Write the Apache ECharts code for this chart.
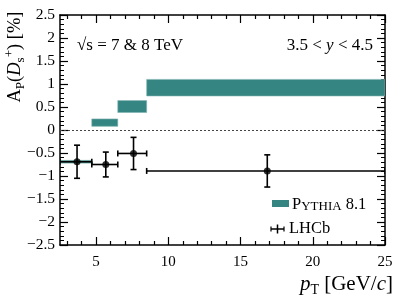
<!DOCTYPE html>
<html><head><meta charset="utf-8">
<script src="https://cdn.jsdelivr.net/npm/echarts@6/dist/echarts.min.js"></script>
<style>html,body{margin:0;padding:0;background:#fff}#c{width:407px;height:295px}</style>
</head><body><div id="c"></div>
<script>
// ---- data ----
const binLow = [2.5, 4.7, 6.5, 8.5];
const binHigh = [4.7, 6.5, 8.5, 25];
const pythiaLow = [-0.72, 0.08, 0.38, 0.74];
const pythiaHigh = [-0.66, 0.24, 0.64, 1.10];
const lhcbPt = [3.68, 5.67, 7.59, 16.85];
const lhcbAp = [-0.69, -0.75, -0.51, -0.89];
const lhcbErr = [0.36, 0.27, 0.35, 0.35];
const xMajorTicks = [5, 10, 15, 20, 25];
const xMinorTicks = [3, 4, 6, 7, 8, 9, 11, 12, 13, 14, 16, 17, 18, 19, 21, 22, 23, 24];
const yMin = -2.5, yMax = 2.5, yStep = 0.5;
const xMin = 2.5, xMax = 25;

const FONT = 'Liberation Serif';
const TEAL = '#358582';

const bandData = binLow.map((b, i) => [b, binHigh[i], pythiaLow[i], pythiaHigh[i]]);
const errData = lhcbPt.map((x, i) => [x, lhcbAp[i], binLow[i], binHigh[i], lhcbErr[i]]);
const ptData = lhcbPt.map((x, i) => [x, lhcbAp[i]]);

const fmt = v => (v < 0 ? '\u2212' : '') + Math.abs(v);

function xAxisDef(pos, ticks, len, labels, line) {
  return {
    type: 'value', position: pos, min: xMin, max: xMax,
    axisLine: { show: line, onZero: false, lineStyle: { color: '#000', width: 1.5 } },
    axisTick: { show: true, inside: true, length: len, customValues: ticks, lineStyle: { color: '#000', width: 1.2 } },
    axisLabel: labels ? { show: true, customValues: ticks, color: '#000', fontFamily: FONT, fontSize: 15, margin: 10, formatter: fmt } : { show: false },
    splitLine: { show: false }
  };
}
function yAxisDef(pos, labels) {
  return {
    type: 'value', position: pos, min: yMin, max: yMax, interval: yStep,
    axisLine: { show: true, onZero: false, lineStyle: { color: '#000', width: 1.5 } },
    axisTick: { show: true, inside: true, length: 8, lineStyle: { color: '#000', width: 1.2 } },
    minorTick: { show: true, splitNumber: 5, length: 4, lineStyle: { color: '#000', width: 1 } },
    axisLabel: labels ? { show: true, color: '#000', fontFamily: FONT, fontSize: 15.5, margin: 5, formatter: fmt } : { show: false },
    splitLine: { show: false }
  };
}

const TS = 18.5, SS = 13;
const chart = echarts.init(document.getElementById('c'), null, { renderer: 'canvas' });
chart.setOption({
  animation: false,
  backgroundColor: '#fff',
  grid: { left: 60, right: 22, top: 15, bottom: 50 },
  xAxis: [
    xAxisDef('bottom', xMajorTicks, 8, true, true),
    xAxisDef('bottom', xMinorTicks, 4, false, false),
    xAxisDef('top', xMajorTicks, 8, false, true),
    xAxisDef('top', xMinorTicks, 4, false, false)
  ],
  yAxis: [yAxisDef('left', true), yAxisDef('right', false)],
  series: [
    {
      name: 'Pythia', type: 'custom', xAxisIndex: 0, yAxisIndex: 0, clip: true,
      data: bandData,
      renderItem(params, api) {
        const p0 = api.coord([api.value(0), api.value(3)]);
        const p1 = api.coord([api.value(1), api.value(2)]);
        return { type: 'rect', shape: { x: p0[0], y: p0[1], width: p1[0] - p0[0], height: p1[1] - p0[1] },
          style: { fill: TEAL, stroke: '#7fb3b0', lineWidth: 0.6 } };
      },
      markLine: {
        silent: true, symbol: ['none', 'none'], label: { show: false },
        lineStyle: { color: '#444', type: [2, 2], width: 1 },
        data: [{ yAxis: 0 }]
      }
    },
    {
      name: 'LHCb err', type: 'custom', xAxisIndex: 0, yAxisIndex: 0, clip: true,
      data: errData,
      renderItem(params, api) {
        const x = api.value(0), y = api.value(1), xl = api.value(2), xh = api.value(3), e = api.value(4);
        const c = api.coord([x, y]);
        const l = api.coord([xl, y]);
        const h = api.coord([xh, y]);
        const t = api.coord([x, y + e]);
        const b = api.coord([x, y - e]);
        const st = { stroke: '#000', lineWidth: 1.6 };
        const cap = 3;
        return { type: 'group', children: [
          { type: 'line', shape: { x1: l[0], y1: c[1], x2: h[0], y2: c[1] }, style: st },
          { type: 'line', shape: { x1: c[0], y1: t[1], x2: c[0], y2: b[1] }, style: st },
          { type: 'line', shape: { x1: c[0] - cap, y1: t[1], x2: c[0] + cap, y2: t[1] }, style: st },
          { type: 'line', shape: { x1: c[0] - cap, y1: b[1], x2: c[0] + cap, y2: b[1] }, style: st },
          { type: 'line', shape: { x1: l[0], y1: c[1] - cap, x2: l[0], y2: c[1] + cap }, style: st },
          { type: 'line', shape: { x1: h[0], y1: c[1] - cap, x2: h[0], y2: c[1] + cap }, style: st }
        ] };
      }
    },
    {
      name: 'LHCb', type: 'scatter', xAxisIndex: 0, yAxisIndex: 0,
      data: ptData, symbol: 'circle', symbolSize: 7, itemStyle: { color: '#000' }, z: 5
    }
  ],
  graphic: [
    { type: 'text', x: 15, y: 57, rotation: Math.PI / 2,
      style: { text: '{n|A}{sub|P}{n|(}{i|D}{sub|s}{sup|+}{n|) [%]}', align: 'center', verticalAlign: 'middle',
        rich: {
          n: { fontFamily: FONT, fontSize: TS, lineHeight: 24, fill: '#000' },
          i: { fontFamily: FONT, fontSize: TS, fontStyle: 'italic', lineHeight: 24, fill: '#000' },
          sub: { fontFamily: FONT, fontSize: SS, verticalAlign: 'bottom', lineHeight: 24, fill: '#000' },
          sup: { fontFamily: FONT, fontSize: SS, verticalAlign: 'top', lineHeight: 24, fill: '#000' }
        } } },
    { type: 'text', x: 393, y: 284,
      style: { text: '{i|p}{sub|T}{n| [GeV/}{i|c}{n|]}', align: 'right', verticalAlign: 'middle',
        rich: {
          n: { fontFamily: FONT, fontSize: 21, lineHeight: 26, fill: '#000' },
          i: { fontFamily: FONT, fontSize: 21, fontStyle: 'italic', lineHeight: 26, fill: '#000' },
          sub: { fontFamily: FONT, fontSize: 14, verticalAlign: 'bottom', lineHeight: 26, fill: '#000' }
        } } },
    { type: 'text', x: 77, y: 46,
      style: { text: '\u221As = 7 & 8 TeV', fontFamily: FONT, fontSize: 17, fill: '#000', align: 'left', verticalAlign: 'middle' } },
    { type: 'text', x: 373, y: 46,
      style: { text: '{n|3.5 < }{i|y}{n| < 4.5}', align: 'right', verticalAlign: 'middle',
        rich: {
          n: { fontFamily: FONT, fontSize: 17, fill: '#000' },
          i: { fontFamily: FONT, fontSize: 17, fontStyle: 'italic', fill: '#000' }
        } } },
    { type: 'rect', shape: { x: 272, y: 200, width: 17, height: 7 }, style: { fill: TEAL } },
    { type: 'text', x: 292, y: 204,
      style: { text: '{p|P}{s|YTHIA}{p| 8.1}', align: 'left', verticalAlign: 'middle',
        rich: {
          p: { fontFamily: FONT, fontSize: 16.5, fill: '#000', verticalAlign: 'bottom', lineHeight: 19 },
          s: { fontFamily: FONT, fontSize: 13, fill: '#000', verticalAlign: 'bottom', lineHeight: 17.5 }
        } } },
    { type: 'line', shape: { x1: 271, y1: 229, x2: 284, y2: 229 }, style: { stroke: '#000', lineWidth: 1.5 } },
    { type: 'line', shape: { x1: 277.5, y1: 224.5, x2: 277.5, y2: 233.5 }, style: { stroke: '#000', lineWidth: 1.5 } },
    { type: 'line', shape: { x1: 271, y1: 226.5, x2: 271, y2: 231.5 }, style: { stroke: '#000', lineWidth: 1.2 } },
    { type: 'line', shape: { x1: 284, y1: 226.5, x2: 284, y2: 231.5 }, style: { stroke: '#000', lineWidth: 1.2 } },
    { type: 'text', x: 289, y: 229,
      style: { text: 'LHCb', fontFamily: FONT, fontSize: 16.5, fill: '#000', align: 'left', verticalAlign: 'middle' } }
  ]
});
</script>
</body></html>
